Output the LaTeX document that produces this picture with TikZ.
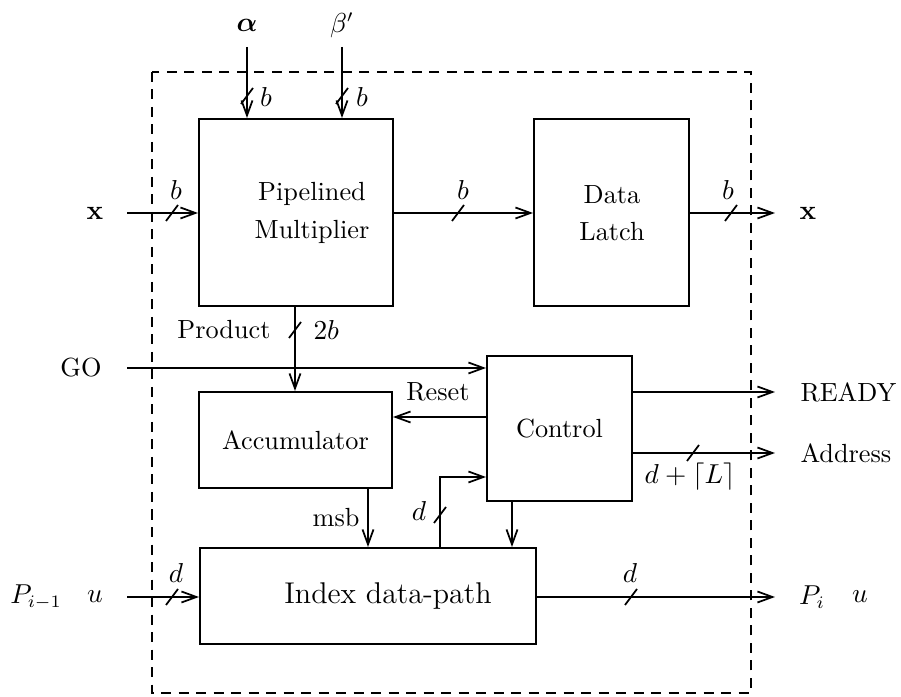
\documentclass[tikz,border=0pt]{standalone}
\usepackage{amsmath,amssymb,bm}
\usetikzlibrary{arrows.meta,calc}
\tikzset{
  blk/.style={draw, line width=0.8pt, inner sep=0pt},
  wire/.style={line width=0.8pt, -{Straight Barb[length=6pt,width=4.4pt,line width=0.7pt]}},
  lbl/.style={inner sep=0pt},
  bus/.style={line width=0.7pt},
}
% slash mark on a bus at a given point
\newcommand\busmark[1]{\draw[bus] ($(#1)+(-6,8)$) -- ($(#1)+(6,-8)$);}
\begin{document}
\begin{tikzpicture}[x=0.4pt, y=-0.4pt, font=\fontsize{10.5}{12.5}\selectfont]
\useasboundingbox (0,0) rectangle (901,697);

% enclosing chip boundary
\draw[line width=0.6pt, dash pattern=on 4pt off 3pt] (152,72) rectangle (751,693);

% functional blocks
\node[blk, minimum width=77.6pt, minimum height=74.8pt] (mult) at (296,212.5) {};
\node[lbl, align=center] (multtxt) at (312,213) {Pipelined\\[2.5pt]Multiplier};
\node[blk, minimum width=62pt, minimum height=74.8pt] (latch) at (611.5,212.5) {};
\node[lbl, align=center] (latchtxt) at (612,213) {Data\\[2.5pt]Latch};
\node[blk, minimum width=77.2pt, minimum height=38.4pt] (acc) at (295.5,440) {Accumulator};
\node[blk, minimum width=58pt, minimum height=58pt] (ctrl) at (559.5,428.5) {Control};
\node[blk, minimum width=134.4pt, minimum height=38.4pt] (idx) at (368,596) {};
\node[lbl, font=\fontsize{12}{14}\selectfont] (idxtxt) at (388,596) {Index data-path};

% external inputs
\node[lbl] (alpha) at (247,25) {$\bm{\alpha}$};
\node[lbl] (beta) at (342,25) {$\beta'$};
\coordinate (a0) at (247,47);
\coordinate (b0) at (342,47);
\draw[wire] (a0) -- (a0 |- mult.north);
\draw[wire] (b0) -- (b0 |- mult.north);
\busmark{247,96} \busmark{342,96}
\node[lbl] (ba) at (266,97) {$b$};
\node[lbl] (bb) at (362,97) {$b$};

\node[lbl] (xin) at (95,213) {$\mathbf{x}$};
\coordinate (x0) at (127,213);
\draw[wire] (x0) -- (x0 -| mult.west);
\busmark{172,213}
\node[lbl] (bx) at (176,190) {$b$};

\draw[wire] (mult.east |- 0,213) -- (latch.west |- 0,213);
\busmark{458,213}
\node[lbl] (bm) at (463,190) {$b$};

\coordinate (x1) at (775,213);
\draw[wire] (latch.east |- x1) -- (x1);
\busmark{731,213}
\node[lbl] (bl) at (728,190) {$b$};
\node[lbl, anchor=west] (xout) at (799,213) {$\mathbf{x}$};

% product path
\draw[wire] (295,0 |- mult.south) -- (295,0 |- acc.north);
\busmark{295,330}
\node[lbl, anchor=east] (prod) at (271,330) {Product};
\node[lbl, anchor=west] (twob) at (313,330) {$2b$};

% control signals
\node[lbl] (go) at (81,368) {GO};
\coordinate (g0) at (127,368);
\draw[wire] (g0) -- (g0 -| ctrl.west);

\coordinate (r1) at (775,392);
\draw[wire] (ctrl.east |- r1) -- (r1);
\node[lbl, anchor=west] (ready) at (800,392) {READY};

\coordinate (ad1) at (775,453);
\draw[wire] (ctrl.east |- ad1) -- (ad1);
\busmark{693,453}
\node[lbl, anchor=west] (addr) at (800,453) {Address};
\node[lbl] (dl) at (690,477) {$d+\lceil L\rceil$};

\draw[wire] (ctrl.west |- 0,417) -- (acc.east |- 0,417);
\node[lbl] (reset) at (438,392) {Reset};

% index data-path connections
\draw[wire] (368,0 |- acc.south) -- (368,0 |- idx.north);
\node[lbl, anchor=east] (msb) at (360,518) {msb};
\draw[wire] (512,0 |- ctrl.south) -- (512,0 |- idx.north);
\draw[wire] (440,0 |- idx.north) |- (ctrl.west |- 0,477);
\busmark{440,515}
\node[lbl] (dd) at (419,511) {$d$};

\node[lbl] (pin) at (36,597) {$P_{i-1}$};
\node[lbl] (uin) at (95,597) {$u$};
\coordinate (p0) at (127,597);
\draw[wire] (p0) -- (p0 -| idx.west);
\busmark{172,597}
\node[lbl] (dp) at (176,573) {$d$};

\coordinate (p1) at (775,597);
\draw[wire] (idx.east |- p1) -- (p1);
\busmark{631,597}
\node[lbl] (dq) at (630,573) {$d$};
\node[lbl] (pout) at (812,597) {$P_i$};
\node[lbl] (uout) at (860,597) {$u$};
\end{tikzpicture}
\end{document}
